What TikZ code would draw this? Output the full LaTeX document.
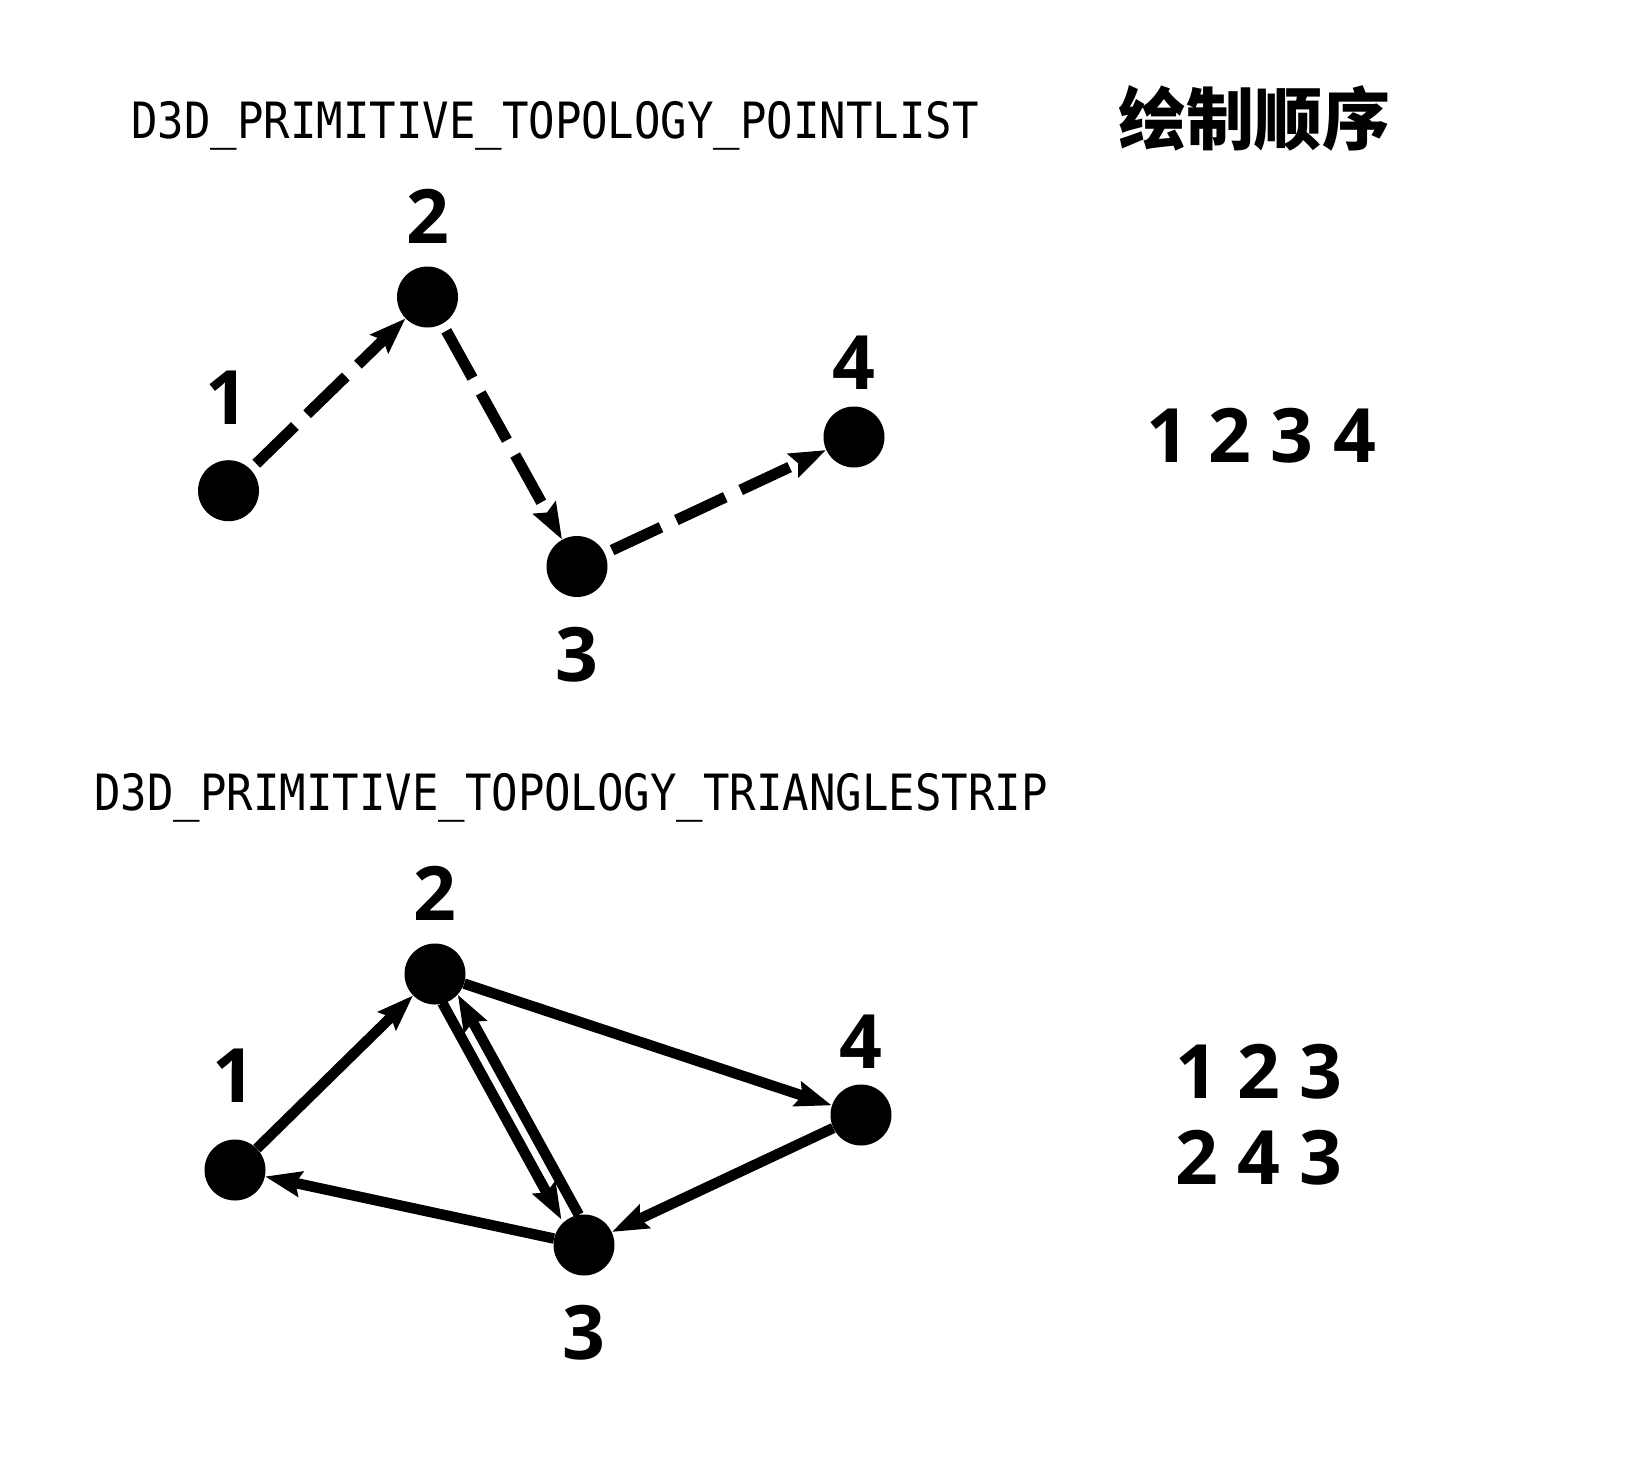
\documentclass[tikz,border=0pt]{standalone}
\usepackage{fontspec}
\usepackage{graphicx}
\setmainfont{Open Sans}
\newfontfamily\monofnt{DejaVu Sans Mono}
\newfontfamily\cjk{Noto Sans CJK SC}
\usetikzlibrary{arrows.meta,calc}
\begin{document}
\begin{tikzpicture}[x=1pt,y=-1pt,
  vtx/.style={circle,fill=black,minimum size=61pt,inner sep=0pt},
  num/.style={font=\fontsize{75}{80}\selectfont\bfseries,inner sep=0pt},
  ttl/.style={font=\fontsize{50}{55}\selectfont\monofnt,anchor=base west,inner sep=0pt},
  tipped/.style={-{Stealth[length=36pt,width=25pt,inset=5pt]}},
  dashedge/.style={tipped,line width=11pt,dash pattern=on 54pt off 17pt,shorten <=8pt},
  solidedge/.style={tipped,line width=10.5pt},
]
\useasboundingbox (0,0) rectangle (1651,1457);

% ---------- top: point list ----------
\node[ttl] (t1) at (131,138) {\scalebox{0.88}[1]{D3D\_PRIMITIVE\_TOPOLOGY\_POINTLIST}};
\node[font=\fontsize{68}{72}\selectfont\cjk\bfseries,inner sep=0pt] (hd) at (1254,118) {绘制顺序};

\node[vtx] (a1) at (228.5,490.7) {};
\node[vtx] (a2) at (427.5,297) {};
\node[vtx] (a3) at (577,566.5) {};
\node[vtx] (a4) at (854,437) {};

\node[num] (la1) at (227,398) {1};
\node[num] (la2) at (427.5,216) {2};
\node[num] (la3) at (577,655) {3};
\node[num] (la4) at (854,363) {4};

\draw[dashedge] (a1) -- (a2);
\draw[dashedge] (a2) -- (a3);
\draw[dashedge] (a3) -- (a4);

\node[num] (oa) at (1261,436) {1 2 3 4};

% ---------- bottom: triangle strip ----------
\node[ttl] (t2) at (94,810) {\scalebox{0.88}[1]{D3D\_PRIMITIVE\_TOPOLOGY\_TRIANGLESTRIP}};

\node[vtx] (b1) at (235,1170) {};
\node[vtx] (b2) at (435,974) {};
\node[vtx] (b3) at (584,1245) {};
\node[vtx] (b4) at (861,1115) {};

\node[num] (lb1) at (234,1076) {1};
\node[num] (lb2) at (435,893) {2};
\node[num] (lb3) at (584,1333) {3};
\node[num] (lb4) at (861,1042) {4};

\draw[solidedge] (b1) -- (b2);
\draw[solidedge] (b2) -- (b4);
\draw[solidedge] (b4) -- (b3);
\draw[solidedge] (b3) -- (b1);
\draw[solidedge,shorten <=29pt,shorten >=33pt]
  ($(b2)!7.5pt!-90:(b3)$) -- ($(b3)!7.5pt!90:(b2)$);
\draw[solidedge,shorten <=29pt,shorten >=29pt]
  ($(b3)!10pt!-90:(b2)$) -- ($(b2)!10pt!90:(b3)$);

\node[num] (ob1) at (1259,1072) {1 2 3};
\node[num] (ob2) at (1259,1158) {2 4 3};
\end{tikzpicture}
\end{document}
